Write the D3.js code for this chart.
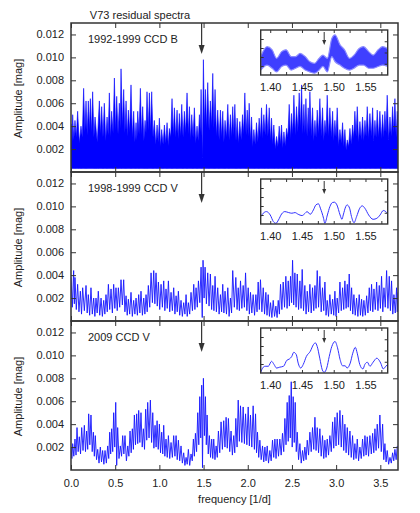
<!DOCTYPE html>
<html><head><meta charset="utf-8">
<script src="https://cdn.jsdelivr.net/npm/d3@7"></script>
<style>
body{margin:0;background:#fff}
svg{display:block}
text{font-family:"Liberation Sans",Arial,Helvetica,sans-serif;fill:#222}
</style>
</head><body>
<svg id="c" width="420" height="513"></svg>
<script>
// ---------- DATA ----------
const title = "V73 residual spectra";
const xLabel = "frequency [1/d]";
const yLabel = "Amplitude [mag]";
const panelLabels = ["1992-1999 CCD B", "1998-1999 CCD V", "2009 CCD V"];
const xTicks = [0, 0.5, 1.0, 1.5, 2.0, 2.5, 3.0, 3.5];
const yTicks = [0.002, 0.004, 0.006, 0.008, 0.010, 0.012];
const insetXTicks = [1.40, 1.45, 1.50, 1.55];
const insetMinorTicks = [1.40, 1.425, 1.45, 1.475, 1.50, 1.525, 1.55, 1.575];
const insetLeftTicks = [0.002, 0.004, 0.006, 0.008];
const insetRightTicks = [0.0025, 0.005, 0.0075];
const arrowFreq = 1.478;
const insetArrowFreq = 1.485;
const p1Floor = 0.0003;

// Panel 1 (1992-1999 CCD B): local maxima [freq, amp]
const p1Peaks = [[0.000,0.0042],[0.019,0.0050],[0.045,0.0045],[0.075,0.0053],[0.113,0.0040],[0.143,0.0073],[0.170,0.0062],[0.196,0.0062],[0.219,0.0064],[0.245,0.0070],[0.272,0.0048],[0.321,0.0062],[0.347,0.0057],[0.377,0.0060],[0.408,0.0048],[0.434,0.0069],[0.460,0.0053],[0.491,0.0082],[0.517,0.0066],[0.547,0.0060],[0.566,0.0090],[0.596,0.0072],[0.623,0.0062],[0.649,0.0054],[0.679,0.0076],[0.709,0.0053],[0.736,0.0043],[0.755,0.0053],[0.785,0.0073],[0.811,0.0057],[0.838,0.0045],[0.860,0.0070],[0.887,0.0069],[0.913,0.0070],[0.943,0.0045],[0.974,0.0041],[1.000,0.0047],[1.026,0.0037],[1.057,0.0041],[1.087,0.0043],[1.113,0.0038],[1.143,0.0064],[1.170,0.0056],[1.200,0.0054],[1.226,0.0051],[1.253,0.0059],[1.283,0.0053],[1.313,0.0069],[1.340,0.0057],[1.366,0.0050],[1.396,0.0056],[1.426,0.0040],[1.453,0.0050],[1.472,0.0072],[1.498,0.0098],[1.521,0.0072],[1.547,0.0078],[1.577,0.0062],[1.604,0.0086],[1.630,0.0072],[1.660,0.0054],[1.691,0.0054],[1.717,0.0053],[1.743,0.0045],[1.774,0.0059],[1.804,0.0050],[1.830,0.0057],[1.854,0.0059],[1.880,0.0047],[1.910,0.0044],[1.941,0.0050],[1.967,0.0069],[1.994,0.0054],[2.016,0.0060],[2.043,0.0048],[2.069,0.0037],[2.099,0.0043],[2.129,0.0047],[2.156,0.0056],[2.182,0.0050],[2.212,0.0059],[2.243,0.0056],[2.269,0.0047],[2.295,0.0041],[2.326,0.0031],[2.356,0.0040],[2.382,0.0041],[2.409,0.0035],[2.439,0.0038],[2.469,0.0059],[2.495,0.0051],[2.522,0.0067],[2.552,0.0057],[2.582,0.0069],[2.609,0.0076],[2.635,0.0059],[2.658,0.0064],[2.684,0.0056],[2.703,0.0070],[2.733,0.0056],[2.760,0.0045],[2.786,0.0054],[2.816,0.0064],[2.846,0.0056],[2.873,0.0045],[2.899,0.0067],[2.929,0.0056],[2.960,0.0053],[2.986,0.0045],[3.012,0.0056],[3.043,0.0037],[3.073,0.0043],[3.099,0.0037],[3.126,0.0028],[3.156,0.0038],[3.186,0.0041],[3.212,0.0053],[3.239,0.0057],[3.269,0.0044],[3.299,0.0048],[3.326,0.0045],[3.352,0.0057],[3.382,0.0051],[3.413,0.0056],[3.439,0.0045],[3.465,0.0054],[3.495,0.0053],[3.526,0.0050],[3.552,0.0053],[3.578,0.0067],[3.609,0.0048],[3.639,0.0057],[3.665,0.0064],[3.692,0.0053],[3.700,0.0050]];
// Panel 1: local minima [freq, amp]
const p1Valleys = [[0.010,0.0022],[0.032,0.0028],[0.060,0.0030],[0.094,0.0025],[0.128,0.0030],[0.157,0.0035],[0.183,0.0032],[0.208,0.0036],[0.232,0.0034],[0.259,0.0030],[0.297,0.0026],[0.334,0.0033],[0.362,0.0030],[0.393,0.0027],[0.421,0.0032],[0.447,0.0030],[0.476,0.0034],[0.504,0.0036],[0.532,0.0033],[0.557,0.0038],[0.582,0.0040],[0.610,0.0034],[0.636,0.0031],[0.664,0.0035],[0.694,0.0030],[0.723,0.0026],[0.746,0.0028],[0.770,0.0033],[0.798,0.0032],[0.825,0.0027],[0.849,0.0034],[0.874,0.0036],[0.900,0.0035],[0.928,0.0030],[0.959,0.0024],[0.987,0.0026],[1.013,0.0022],[1.042,0.0024],[1.072,0.0025],[1.100,0.0023],[1.128,0.0030],[1.157,0.0032],[1.185,0.0030],[1.213,0.0029],[1.240,0.0031],[1.268,0.0030],[1.298,0.0034],[1.327,0.0033],[1.353,0.0028],[1.381,0.0030],[1.411,0.0025],[1.440,0.0027],[1.463,0.0035],[1.487,0.0012],[1.510,0.0040],[1.534,0.0038],[1.562,0.0036],[1.591,0.0040],[1.617,0.0038],[1.645,0.0031],[1.676,0.0028],[1.704,0.0030],[1.730,0.0026],[1.759,0.0030],[1.789,0.0028],[1.817,0.0030],[1.842,0.0032],[1.867,0.0027],[1.895,0.0025],[1.926,0.0028],[1.954,0.0033],[1.981,0.0032],[2.005,0.0031],[2.030,0.0027],[2.056,0.0022],[2.084,0.0024],[2.114,0.0026],[2.143,0.0030],[2.169,0.0029],[2.197,0.0032],[2.228,0.0031],[2.256,0.0027],[2.282,0.0024],[2.311,0.0020],[2.341,0.0022],[2.369,0.0024],[2.396,0.0021],[2.424,0.0023],[2.454,0.0030],[2.482,0.0029],[2.509,0.0033],[2.537,0.0032],[2.567,0.0035],[2.596,0.0038],[2.622,0.0033],[2.647,0.0034],[2.671,0.0031],[2.694,0.0035],[2.718,0.0031],[2.747,0.0027],[2.773,0.0030],[2.801,0.0033],[2.831,0.0031],[2.860,0.0027],[2.886,0.0033],[2.914,0.0031],[2.945,0.0030],[2.973,0.0027],[2.999,0.0030],[3.028,0.0023],[3.058,0.0025],[3.086,0.0022],[3.113,0.0019],[3.141,0.0022],[3.171,0.0024],[3.199,0.0029],[3.226,0.0031],[3.254,0.0026],[3.284,0.0028],[3.313,0.0027],[3.339,0.0031],[3.367,0.0029],[3.398,0.0031],[3.426,0.0027],[3.452,0.0030],[3.480,0.0030],[3.511,0.0029],[3.539,0.0030],[3.565,0.0034],[3.594,0.0028],[3.624,0.0031],[3.652,0.0034],[3.679,0.0030],[3.696,0.0031]];

// Panel 2 (1998-1999 CCD V)
const p2Peaks = [[0.000,0.0038],[0.030,0.0044],[0.045,0.0038],[0.075,0.0032],[0.106,0.0026],[0.132,0.0029],[0.170,0.0031],[0.196,0.0023],[0.226,0.0029],[0.257,0.0020],[0.283,0.0020],[0.309,0.0026],[0.340,0.0020],[0.370,0.0018],[0.396,0.0023],[0.423,0.0032],[0.453,0.0028],[0.483,0.0032],[0.509,0.0029],[0.536,0.0029],[0.566,0.0036],[0.596,0.0036],[0.623,0.0022],[0.649,0.0019],[0.679,0.0025],[0.709,0.0018],[0.736,0.0020],[0.766,0.0023],[0.792,0.0026],[0.823,0.0020],[0.849,0.0023],[0.875,0.0031],[0.906,0.0042],[0.936,0.0044],[0.962,0.0042],[0.989,0.0034],[1.019,0.0032],[1.049,0.0035],[1.075,0.0028],[1.102,0.0035],[1.132,0.0025],[1.162,0.0029],[1.189,0.0022],[1.215,0.0026],[1.245,0.0018],[1.275,0.0016],[1.302,0.0023],[1.328,0.0016],[1.358,0.0025],[1.389,0.0032],[1.415,0.0029],[1.442,0.0035],[1.472,0.0047],[1.494,0.0053],[1.517,0.0047],[1.547,0.0042],[1.577,0.0041],[1.604,0.0031],[1.630,0.0039],[1.660,0.0029],[1.691,0.0023],[1.717,0.0032],[1.743,0.0026],[1.774,0.0029],[1.804,0.0020],[1.830,0.0044],[1.865,0.0038],[1.892,0.0029],[1.918,0.0035],[1.948,0.0031],[1.975,0.0042],[2.005,0.0029],[2.031,0.0025],[2.061,0.0023],[2.092,0.0023],[2.118,0.0034],[2.144,0.0036],[2.175,0.0029],[2.205,0.0025],[2.231,0.0023],[2.258,0.0016],[2.288,0.0018],[2.318,0.0013],[2.345,0.0018],[2.371,0.0032],[2.401,0.0034],[2.431,0.0039],[2.458,0.0035],[2.484,0.0039],[2.507,0.0053],[2.533,0.0042],[2.560,0.0041],[2.590,0.0035],[2.616,0.0045],[2.646,0.0031],[2.673,0.0026],[2.703,0.0032],[2.733,0.0029],[2.760,0.0031],[2.786,0.0044],[2.816,0.0039],[2.846,0.0029],[2.873,0.0034],[2.899,0.0018],[2.929,0.0023],[2.960,0.0019],[2.986,0.0026],[3.012,0.0020],[3.043,0.0034],[3.073,0.0029],[3.099,0.0035],[3.126,0.0032],[3.148,0.0041],[3.175,0.0029],[3.201,0.0023],[3.231,0.0020],[3.261,0.0023],[3.288,0.0019],[3.314,0.0018],[3.345,0.0022],[3.375,0.0029],[3.401,0.0032],[3.428,0.0028],[3.458,0.0034],[3.488,0.0031],[3.514,0.0039],[3.541,0.0029],[3.571,0.0044],[3.601,0.0039],[3.627,0.0035],[3.654,0.0023],[3.684,0.0029],[3.700,0.0025]];
const p2Valleys = [[0.015,0.0012],[0.038,0.0015],[0.060,0.0010],[0.090,0.0008],[0.119,0.0006],[0.151,0.0009],[0.183,0.0007],[0.211,0.0005],[0.241,0.0006],[0.270,0.0004],[0.296,0.0007],[0.325,0.0005],[0.355,0.0004],[0.383,0.0006],[0.410,0.0008],[0.438,0.0010],[0.468,0.0007],[0.496,0.0011],[0.523,0.0009],[0.551,0.0012],[0.581,0.0014],[0.610,0.0008],[0.636,0.0005],[0.664,0.0006],[0.694,0.0004],[0.723,0.0006],[0.751,0.0005],[0.779,0.0007],[0.808,0.0005],[0.836,0.0006],[0.862,0.0008],[0.891,0.0012],[0.921,0.0016],[0.949,0.0015],[0.976,0.0013],[1.004,0.0010],[1.034,0.0012],[1.062,0.0009],[1.089,0.0011],[1.117,0.0008],[1.147,0.0009],[1.176,0.0006],[1.202,0.0008],[1.230,0.0005],[1.260,0.0004],[1.289,0.0006],[1.315,0.0004],[1.343,0.0006],[1.374,0.0009],[1.402,0.0010],[1.429,0.0012],[1.457,0.0016],[1.485,0.0003],[1.506,0.0020],[1.532,0.0015],[1.562,0.0013],[1.591,0.0010],[1.617,0.0009],[1.645,0.0008],[1.676,0.0006],[1.704,0.0008],[1.730,0.0007],[1.759,0.0006],[1.789,0.0004],[1.817,0.0007],[1.848,0.0012],[1.879,0.0010],[1.905,0.0009],[1.933,0.0011],[1.962,0.0012],[1.990,0.0009],[2.018,0.0006],[2.046,0.0007],[2.077,0.0005],[2.105,0.0008],[2.131,0.0010],[2.160,0.0008],[2.190,0.0006],[2.218,0.0005],[2.245,0.0004],[2.273,0.0003],[2.303,0.0004],[2.332,0.0003],[2.358,0.0006],[2.386,0.0010],[2.416,0.0012],[2.445,0.0011],[2.471,0.0013],[2.496,0.0016],[2.520,0.0014],[2.547,0.0012],[2.575,0.0010],[2.603,0.0011],[2.631,0.0009],[2.660,0.0006],[2.688,0.0008],[2.718,0.0007],[2.747,0.0009],[2.773,0.0011],[2.801,0.0012],[2.831,0.0008],[2.860,0.0009],[2.886,0.0005],[2.914,0.0004],[2.945,0.0006],[2.973,0.0005],[2.999,0.0004],[3.028,0.0007],[3.058,0.0009],[3.086,0.0010],[3.113,0.0011],[3.137,0.0012],[3.162,0.0009],[3.188,0.0006],[3.216,0.0005],[3.246,0.0004],[3.275,0.0005],[3.301,0.0004],[3.330,0.0005],[3.360,0.0007],[3.388,0.0009],[3.415,0.0008],[3.443,0.0010],[3.473,0.0009],[3.501,0.0011],[3.528,0.0008],[3.556,0.0012],[3.586,0.0011],[3.614,0.0009],[3.641,0.0006],[3.669,0.0007],[3.692,0.0008]];

// Panel 3 (2009 CCD V)
const p3Peaks = [[0.000,0.0020],[0.019,0.0023],[0.045,0.0027],[0.068,0.0037],[0.094,0.0029],[0.121,0.0037],[0.151,0.0039],[0.177,0.0034],[0.200,0.0049],[0.226,0.0048],[0.253,0.0033],[0.275,0.0030],[0.302,0.0018],[0.332,0.0020],[0.358,0.0017],[0.385,0.0017],[0.415,0.0021],[0.438,0.0033],[0.460,0.0036],[0.483,0.0050],[0.506,0.0059],[0.528,0.0037],[0.558,0.0021],[0.585,0.0030],[0.611,0.0030],[0.642,0.0021],[0.668,0.0034],[0.694,0.0036],[0.717,0.0048],[0.743,0.0049],[0.766,0.0052],[0.792,0.0050],[0.819,0.0036],[0.845,0.0053],[0.868,0.0059],[0.898,0.0061],[0.925,0.0050],[0.951,0.0039],[0.974,0.0043],[1.000,0.0040],[1.026,0.0033],[1.049,0.0039],[1.075,0.0027],[1.102,0.0030],[1.132,0.0024],[1.162,0.0030],[1.189,0.0030],[1.215,0.0026],[1.245,0.0021],[1.275,0.0015],[1.302,0.0011],[1.328,0.0018],[1.358,0.0014],[1.385,0.0027],[1.408,0.0032],[1.434,0.0050],[1.457,0.0064],[1.479,0.0074],[1.498,0.0080],[1.521,0.0064],[1.540,0.0048],[1.566,0.0030],[1.592,0.0027],[1.615,0.0027],[1.642,0.0021],[1.668,0.0034],[1.698,0.0042],[1.728,0.0043],[1.755,0.0046],[1.781,0.0045],[1.811,0.0034],[1.841,0.0030],[1.865,0.0045],[1.892,0.0061],[1.918,0.0056],[1.948,0.0055],[1.975,0.0049],[2.005,0.0055],[2.031,0.0048],[2.061,0.0056],[2.088,0.0049],[2.110,0.0033],[2.137,0.0026],[2.167,0.0021],[2.194,0.0020],[2.220,0.0021],[2.250,0.0017],[2.280,0.0026],[2.307,0.0027],[2.333,0.0027],[2.363,0.0027],[2.393,0.0032],[2.420,0.0045],[2.446,0.0059],[2.469,0.0065],[2.492,0.0077],[2.514,0.0064],[2.537,0.0059],[2.560,0.0033],[2.590,0.0023],[2.620,0.0017],[2.646,0.0020],[2.673,0.0026],[2.703,0.0033],[2.733,0.0037],[2.760,0.0046],[2.786,0.0037],[2.816,0.0036],[2.846,0.0030],[2.873,0.0026],[2.899,0.0027],[2.929,0.0030],[2.960,0.0042],[2.986,0.0046],[3.012,0.0050],[3.043,0.0052],[3.073,0.0048],[3.099,0.0040],[3.126,0.0037],[3.156,0.0034],[3.186,0.0030],[3.212,0.0023],[3.239,0.0027],[3.269,0.0020],[3.299,0.0027],[3.326,0.0030],[3.352,0.0029],[3.382,0.0030],[3.413,0.0032],[3.439,0.0036],[3.465,0.0040],[3.495,0.0048],[3.526,0.0040],[3.552,0.0023],[3.578,0.0017],[3.609,0.0011],[3.639,0.0015],[3.665,0.0018],[3.692,0.0021]];
const p3Valleys = [[0.010,0.0010],[0.032,0.0012],[0.057,0.0013],[0.081,0.0016],[0.108,0.0014],[0.136,0.0017],[0.164,0.0016],[0.189,0.0018],[0.213,0.0022],[0.240,0.0016],[0.264,0.0012],[0.289,0.0009],[0.317,0.0006],[0.345,0.0007],[0.372,0.0005],[0.400,0.0006],[0.427,0.0010],[0.449,0.0014],[0.472,0.0016],[0.495,0.0020],[0.517,0.0004],[0.543,0.0010],[0.572,0.0012],[0.598,0.0014],[0.627,0.0008],[0.655,0.0012],[0.681,0.0015],[0.706,0.0018],[0.730,0.0022],[0.755,0.0023],[0.779,0.0024],[0.806,0.0020],[0.832,0.0018],[0.857,0.0026],[0.883,0.0028],[0.912,0.0024],[0.938,0.0019],[0.963,0.0020],[0.987,0.0018],[1.013,0.0015],[1.038,0.0014],[1.062,0.0012],[1.089,0.0011],[1.117,0.0010],[1.147,0.0011],[1.176,0.0012],[1.202,0.0009],[1.230,0.0008],[1.260,0.0006],[1.289,0.0004],[1.315,0.0005],[1.343,0.0004],[1.372,0.0008],[1.396,0.0012],[1.421,0.0016],[1.446,0.0022],[1.468,0.0028],[1.488,0.0002],[1.510,0.0030],[1.531,0.0022],[1.553,0.0014],[1.579,0.0011],[1.604,0.0010],[1.629,0.0009],[1.655,0.0011],[1.683,0.0015],[1.713,0.0018],[1.742,0.0020],[1.768,0.0019],[1.796,0.0016],[1.826,0.0013],[1.853,0.0015],[1.879,0.0020],[1.905,0.0025],[1.933,0.0024],[1.962,0.0023],[1.990,0.0022],[2.018,0.0021],[2.046,0.0020],[2.075,0.0018],[2.099,0.0015],[2.124,0.0011],[2.152,0.0009],[2.181,0.0007],[2.207,0.0008],[2.235,0.0006],[2.265,0.0008],[2.294,0.0011],[2.320,0.0010],[2.348,0.0012],[2.378,0.0013],[2.407,0.0016],[2.433,0.0022],[2.458,0.0025],[2.481,0.0028],[2.503,0.0020],[2.526,0.0024],[2.549,0.0016],[2.575,0.0009],[2.605,0.0006],[2.633,0.0008],[2.660,0.0009],[2.688,0.0013],[2.718,0.0016],[2.747,0.0018],[2.773,0.0017],[2.801,0.0015],[2.831,0.0012],[2.860,0.0010],[2.886,0.0011],[2.914,0.0013],[2.945,0.0016],[2.973,0.0019],[2.999,0.0021],[3.028,0.0022],[3.058,0.0020],[3.086,0.0017],[3.113,0.0015],[3.141,0.0013],[3.171,0.0011],[3.199,0.0009],[3.226,0.0010],[3.254,0.0008],[3.284,0.0010],[3.313,0.0012],[3.339,0.0013],[3.367,0.0012],[3.398,0.0014],[3.426,0.0015],[3.452,0.0017],[3.480,0.0019],[3.511,0.0016],[3.539,0.0009],[3.565,0.0007],[3.594,0.0005],[3.624,0.0006],[3.652,0.0008],[3.679,0.0009]];

// Inset 1 (band): [freq, upper, lower]
const in1Band = [[1.385,0.0041,0.0011],[1.395,0.0063,0.0022],[1.403,0.0056,0.0015],[1.410,0.0037,0.0007],[1.418,0.0052,0.0019],[1.425,0.0056,0.0022],[1.433,0.0041,0.0011],[1.440,0.0041,0.0015],[1.447,0.0048,0.0019],[1.455,0.0041,0.0011],[1.462,0.0030,0.0007],[1.470,0.0026,0.0004],[1.477,0.0037,0.0011],[1.483,0.0044,0.0019],[1.490,0.0037,0.0007],[1.497,0.0081,0.0041],[1.502,0.0089,0.0030],[1.510,0.0067,0.0022],[1.517,0.0056,0.0015],[1.525,0.0037,0.0011],[1.532,0.0044,0.0015],[1.540,0.0059,0.0022],[1.547,0.0063,0.0022],[1.555,0.0052,0.0015],[1.562,0.0044,0.0015],[1.570,0.0056,0.0019],[1.577,0.0063,0.0022],[1.585,0.0059,0.0019]];
// Inset 2 (smooth)
const in2Freq = [1.385,1.389,1.394,1.400,1.405,1.409,1.413,1.418,1.423,1.429,1.434,1.439,1.444,1.450,1.455,1.458,1.463,1.468,1.472,1.476,1.479,1.484,1.486,1.490,1.494,1.498,1.501,1.505,1.510,1.513,1.515,1.519,1.521,1.525,1.528,1.532,1.536,1.541,1.545,1.549,1.555,1.562,1.568,1.573,1.578,1.582,1.585];
const in2Amp  = [0.00164,0.00239,0.00276,0.00201,0.00052,0.00015,0.0009,0.00224,0.00276,0.00254,0.00239,0.00254,0.00216,0.00187,0.00239,0.00276,0.00216,0.00313,0.00425,0.00448,0.00351,0.00127,0.00015,0.00201,0.00388,0.00478,0.00485,0.00425,0.00201,0.00104,0.00201,0.00388,0.00425,0.00351,0.00164,0.0003,0.00164,0.00351,0.00403,0.00351,0.00201,0.00104,0.00127,0.00201,0.00299,0.00276,0.00224];
// Inset 3 (smooth)
const in3Freq = [1.385,1.388,1.392,1.397,1.402,1.406,1.410,1.415,1.421,1.426,1.430,1.434,1.437,1.441,1.444,1.448,1.452,1.457,1.463,1.468,1.471,1.474,1.478,1.482,1.485,1.489,1.493,1.497,1.502,1.506,1.510,1.514,1.518,1.521,1.526,1.530,1.534,1.537,1.541,1.546,1.549,1.553,1.557,1.562,1.568,1.570,1.574,1.578,1.582,1.585];
const in3Amp  = [0.00015,0.0011,0.0015,0.0015,0.0026,0.0019,0.0011,0.0013,0.0015,0.0028,0.0031,0.0037,0.0046,0.0041,0.0022,0.0011,0.0019,0.0037,0.0048,0.0063,0.0067,0.0059,0.0033,0.0007,0.00015,0.0011,0.0037,0.0059,0.0070,0.0056,0.0030,0.0016,0.0016,0.0011,0.0022,0.0044,0.0057,0.0044,0.0019,0.0009,0.0019,0.0024,0.0015,0.0024,0.0033,0.0031,0.0022,0.0009,0.0015,0.0019];

// ---------- DRAWING ----------
const svg = d3.select("#c");
const L = 71, R = 398, PH = 149;
const tops = [23, 172, 321];
const x = d3.scaleLinear().domain([0, 3.7]).range([L, R]);
const ink = "#333";
const blue = "#0000ff";

function merge(a, b) { return a.concat(b).sort((p, q) => p[0] - q[0]); }

const insetX = d3.scaleLinear().domain([1.385, 1.585]).range([260.7, 387.7]);
const insetOff = 7, insetH = 45;

svg.append("defs").selectAll("clipPath").data(tops).join("clipPath")
  .attr("id", (d, i) => "clip" + i)
  .append("rect").attr("x", L).attr("y", d => d).attr("width", R - L).attr("height", PH);

tops.forEach((top, i) => {
  const y = d3.scaleLinear().domain([0, 0.013]).range([top + PH, top]);
  const g = svg.append("g");
  const cg = g.append("g").attr("clip-path", `url(#clip${i})`);

  if (i === 0) {
    const data = merge(p1Peaks, p1Valleys);
    cg.append("path").datum(data)
      .attr("d", d3.area().x(d => x(d[0])).y0(y(p1Floor)).y1(d => y(d[1])))
      .attr("fill", blue).attr("stroke", blue).attr("stroke-width", 0.6);
  } else {
    const data = i === 1 ? merge(p2Peaks, p2Valleys) : merge(p3Peaks, p3Valleys);
    cg.append("path").datum(data)
      .attr("d", d3.line().x(d => x(d[0])).y(d => y(d[1])))
      .attr("fill", "none").attr("stroke", "#1515ff").attr("stroke-width", 0.9)
      .attr("stroke-linejoin", "round");
  }

  // axes (inward ticks)
  const yl = g.append("g").attr("transform", `translate(${L},0)`)
    .call(d3.axisLeft(y).tickValues(yTicks).tickSize(-5).tickPadding(7).tickFormat(d3.format(".3f")));
  const yr = g.append("g").attr("transform", `translate(${R},0)`)
    .call(d3.axisRight(y).tickValues(yTicks).tickSize(-5).tickFormat(""));
  const xt = g.append("g").attr("transform", `translate(0,${top})`)
    .call(d3.axisTop(x).tickValues(xTicks).tickSize(-5).tickFormat(""));
  const xb = g.append("g").attr("transform", `translate(0,${top + PH})`)
    .call(d3.axisBottom(x).tickValues(xTicks).tickSize(-5).tickPadding(9)
      .tickFormat(i === 2 ? d3.format(".1f") : ""));
  [yl, yr, xt, xb].forEach(a => {
    a.select(".domain").remove();
    a.selectAll("line").attr("stroke", ink).attr("stroke-width", 1);
    a.selectAll("text").attr("font-size", 11).attr("fill", "#222")
      .attr("font-family", '"Liberation Sans",Arial,sans-serif');
  });

  g.append("rect").attr("x", L).attr("y", top).attr("width", R - L).attr("height", PH)
    .attr("fill", "none").attr("stroke", ink).attr("stroke-width", 1.5);

  // panel label
  g.append("text").attr("x", 88).attr("y", top + 20).attr("font-size", 11).text(panelLabels[i]);

  // y label
  g.append("text").attr("transform", `translate(22,${top + PH / 2 + 1}) rotate(-90)`)
    .attr("text-anchor", "middle").attr("font-size", 11).text(yLabel);

  // main arrow
  const ax = x(arrowFreq);
  g.append("line").attr("x1", ax).attr("x2", ax).attr("y1", top).attr("y2", top + 24)
    .attr("stroke", ink).attr("stroke-width", 1.2);
  g.append("path").attr("d", `M${ax - 3},${top + 22}L${ax + 3},${top + 22}L${ax},${top + 31}Z`).attr("fill", ink);

  // inset
  const it = top + insetOff;
  const iy = d3.scaleLinear().domain([0, 0.01]).range([it + insetH, it]);
  const ig = g.append("g");
  ig.append("clipPath").attr("id", "iclip" + i).append("rect")
    .attr("x", insetX.range()[0]).attr("y", it).attr("width", insetX.range()[1] - insetX.range()[0]).attr("height", insetH);
  ig.append("rect").attr("x", insetX.range()[0]).attr("y", it)
    .attr("width", insetX.range()[1] - insetX.range()[0]).attr("height", insetH).attr("fill", "#fff");
  const icg = ig.append("g").attr("clip-path", `url(#iclip${i})`);
  if (i === 0) {
    icg.append("path").datum(in1Band)
      .attr("d", d3.area().curve(d3.curveMonotoneX).x(d => insetX(d[0])).y0(d => iy(d[2])).y1(d => iy(d[1])))
      .attr("fill", "#2a2aff").attr("fill-opacity", 0.9)
      .attr("stroke", "#8a8aff").attr("stroke-width", 1.2);
  } else {
    const fr = i === 1 ? in2Freq : in3Freq, am = i === 1 ? in2Amp : in3Amp;
    icg.append("path").datum(fr.map((f, k) => [f, am[k]]))
      .attr("d", d3.line().curve(d3.curveMonotoneX).x(d => insetX(d[0])).y(d => iy(d[1])))
      .attr("fill", "none").attr("stroke", "#3030ff").attr("stroke-width", 1);
  }
  const il = ig.append("g").attr("transform", `translate(${insetX.range()[0]},0)`)
    .call(d3.axisLeft(iy).tickValues(insetLeftTicks).tickSize(-3).tickFormat(""));
  const ir = ig.append("g").attr("transform", `translate(${insetX.range()[1]},0)`)
    .call(d3.axisRight(iy).tickValues(insetRightTicks).tickSize(-3).tickFormat(""));
  const itp = ig.append("g").attr("transform", `translate(0,${it})`)
    .call(d3.axisTop(insetX).tickValues(insetMinorTicks).tickSize(-3).tickFormat(""));
  const ib = ig.append("g").attr("transform", `translate(0,${it + insetH})`)
    .call(d3.axisBottom(insetX).tickValues(insetMinorTicks).tickSize(-3).tickPadding(8)
      .tickFormat(d => insetXTicks.some(t => Math.abs(t - d) < 1e-6) ? d3.format(".2f")(d) : ""));
  [il, ir, itp, ib].forEach(a => {
    a.select(".domain").remove();
    a.selectAll("line").attr("stroke", ink).attr("stroke-width", 1);
    a.selectAll("text").attr("font-size", 11).attr("fill", "#222")
      .attr("font-family", '"Liberation Sans",Arial,sans-serif');
  });
  ig.append("rect").attr("x", insetX.range()[0]).attr("y", it)
    .attr("width", insetX.range()[1] - insetX.range()[0]).attr("height", insetH)
    .attr("fill", "none").attr("stroke", ink).attr("stroke-width", 1.4);
  const iax = insetX(insetArrowFreq);
  ig.append("line").attr("x1", iax).attr("x2", iax).attr("y1", it + 2).attr("y2", it + 11)
    .attr("stroke", ink).attr("stroke-width", 1);
  ig.append("path").attr("d", `M${iax - 2},${it + 10}L${iax + 2},${it + 10}L${iax},${it + 15}Z`).attr("fill", ink);
});

svg.append("text").attr("x", 140).attr("y", 19).attr("text-anchor", "middle")
  .attr("font-size", 11).text(title);
svg.append("text").attr("x", (L + R) / 2).attr("y", 503).attr("text-anchor", "middle")
  .attr("font-size", 11).text(xLabel);
</script>
</body></html>
